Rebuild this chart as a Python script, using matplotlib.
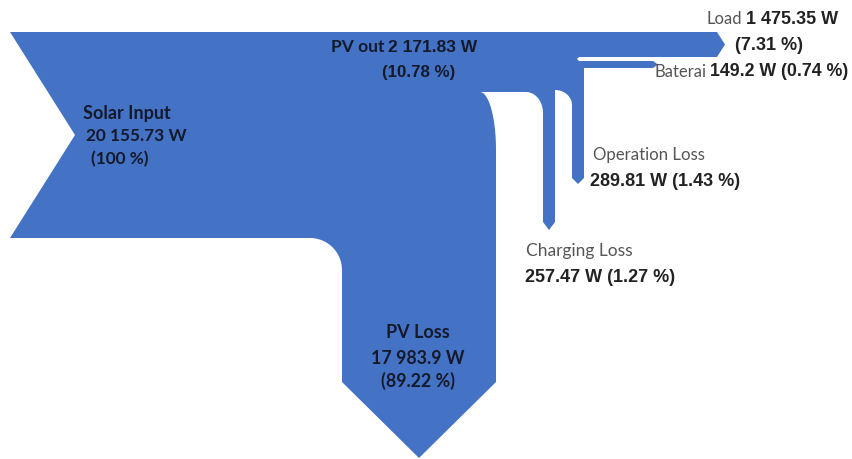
#!/usr/bin/env python3
"""Sankey-style power flow of the PV system (solar input -> losses, load, battery)."""

import numpy as np
import matplotlib.pyplot as plt
from matplotlib.path import Path
from matplotlib.patches import PathPatch

# flows (W) and share of solar input (%)
names = ["Solar Input", "PV out", "PV Loss", "Load", "Baterai", "Operation Loss", "Charging Loss"]
watts = [20155.73, 2171.83, 17983.9, 1475.35, 149.2, 289.81, 257.47]
percents = [100, 10.78, 89.22, 7.31, 0.74, 1.43, 1.27]

BLUE = "#4472C4"
DARK = "#141a2b"
GREY = "#555555"
LABEL_FONT = ["Lato", "DejaVu Sans"]
NUM_FONT = ["Liberation Sans", "DejaVu Sans"]


def fmt_w(v):
    return f"{v:,}".replace(",", " ") + " W"


def fmt_p(p):
    return f"({p:g} %)"


def arc(cx, cy, rx, ry, t0, t1, n=20):
    t = np.radians(np.linspace(t0, t1, n))
    return list(zip(cx + rx * np.cos(t), cy + ry * np.sin(t)))


fig = plt.figure(figsize=(8.53, 4.59), dpi=100)
ax = fig.add_axes([0, 0, 1, 1])
ax.set_xlim(0, 853)
ax.set_ylim(459, 0)
ax.axis("off")

# outline of the whole diagram (pixel-like layout units, y down)
pts = [(10, 32), (717, 32), (725, 44.5), (717, 57), (579, 57), (577, 59), (579, 61),
       (653, 61), (658, 64.5), (653, 68), (584, 68),
       (584, 178), (578, 184), (572, 178), (572, 105)]
pts += arc(555, 105, 17, 15, 0, -90)
pts += [(555, 222), (549, 230), (543, 222), (543, 113)]
pts += arc(526, 113, 17, 21, 0, -90)
pts += [(480, 92)]
pts += arc(480, 150, 16, 58, -90, 0)
pts += [(496, 382), (419, 458), (342, 382), (342, 270)]
pts += arc(310, 270, 32, 32, 0, -90)
pts += [(10, 238), (75, 135), (10, 32)]
codes = [Path.MOVETO] + [Path.LINETO] * (len(pts) - 2) + [Path.CLOSEPOLY]
ax.add_patch(PathPatch(Path(pts, codes), facecolor=BLUE, edgecolor="none"))

# Solar input
ax.text(83, 113, names[0], family=LABEL_FONT, weight="bold", fontsize=13, color=DARK, va="center")
ax.text(86, 136, fmt_w(watts[0]), family=LABEL_FONT, weight="bold", fontsize=12.4, color=DARK, va="center")
ax.text(91, 159, fmt_p(percents[0]), family=LABEL_FONT, weight="bold", fontsize=12.4, color=DARK, va="center")

# PV out
ax.text(385, 47, names[1], family=LABEL_FONT, weight="bold", fontsize=12.5, color=DARK, va="center", ha="right")
ax.text(388, 47, fmt_w(watts[1]), family=NUM_FONT, weight="bold", fontsize=12.5, color=DARK, va="center")
ax.text(382, 72, fmt_p(percents[1]), family=NUM_FONT, weight="bold", fontsize=12.2, color=DARK, va="center")

# PV loss
ax.text(418, 333, names[2], family=LABEL_FONT, weight="bold", fontsize=13, color=DARK, va="center", ha="center")
ax.text(418, 358, fmt_w(watts[2]), family=LABEL_FONT, weight="bold", fontsize=12.8, color=DARK, va="center", ha="center")
ax.text(418, 381, fmt_p(percents[2]), family=LABEL_FONT, weight="bold", fontsize=12.8, color=DARK, va="center", ha="center")

# Load
ax.text(742, 19, names[3], family=LABEL_FONT, fontsize=12, color=GREY, va="center", ha="right")
ax.text(746, 19, fmt_w(watts[3]), family=NUM_FONT, weight="bold", fontsize=13, color="#222222", va="center")
ax.text(735, 45, fmt_p(percents[3]), family=NUM_FONT, weight="bold", fontsize=13, color="#222222", va="center")

# Baterai
ax.text(707, 72, names[4], family=LABEL_FONT, fontsize=12, color=GREY, va="center", ha="right")
ax.text(710, 72, f"{fmt_w(watts[4])} {fmt_p(percents[4])}", family=NUM_FONT, weight="bold",
        fontsize=12.8, color="#222222", va="center")

# Operation loss
ax.text(593, 155, names[5], family=LABEL_FONT, fontsize=12.1, color=GREY, va="center")
ax.text(590, 182, f"{fmt_w(watts[5])} {fmt_p(percents[5])}", family=NUM_FONT, weight="bold",
        fontsize=13, color="#222222", va="center")

# Charging loss
ax.text(526, 251, names[6], family=LABEL_FONT, fontsize=12.5, color=GREY, va="center")
ax.text(525, 277, f"{fmt_w(watts[6])} {fmt_p(percents[6])}", family=NUM_FONT, weight="bold",
        fontsize=13, color="#222222", va="center")

fig.savefig("out.png", dpi=100, facecolor="white")
